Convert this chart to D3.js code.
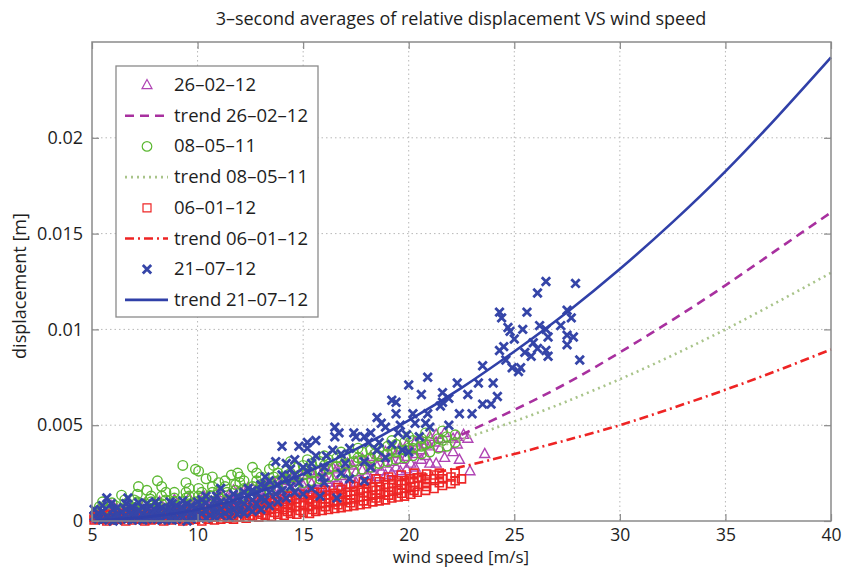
<!DOCTYPE html>
<html>
<head>
<meta charset="utf-8">
<script src="https://cdn.jsdelivr.net/npm/d3@7"></script>
<style>
  body { margin: 0; background: #fff; }
  text { font-family: "Open Sans", sans-serif; fill: #1e1e1e; }
</style>
</head>
<body>
<svg id="chart" width="842" height="569"></svg>
<script>
// ---- data (wind speed [m/s], displacement [mm]) ----
var xTicks = [5, 10, 15, 20, 25, 30, 35, 40];
var yTicks = [0, 0.005, 0.01, 0.015, 0.02];
var yTickLabels = ["0", "0.005", "0.01", "0.015", "0.02"];
var seriesNames = ["26–02–12", "08–05–11", "06–01–12", "21–07–12"];

var pts260212 = [
  [5.2,0.1],[5.2,0.4],[5.5,0.2],[5.5,0.6],[5.9,0.1],[5.9,0.5],[5.9,0.8],[6.2,0.3],[6.2,0.6],
  [6.6,0.15],[6.6,0.45],[6.6,0.7],[7.0,0.2],[7.0,0.55],[7.3,0.1],[7.3,0.4],[7.3,0.7],[7.7,0.3],[7.7,0.6],
  [8.0,0.2],[8.0,0.5],[8.0,0.8],[8.4,0.35],[8.4,0.65],[8.7,0.25],[8.7,0.55],[8.7,0.85],[9.1,0.4],[9.1,0.7],
  [9.4,0.3],[9.4,0.6],[9.4,0.95],[9.8,0.45],[9.8,0.8],[10.1,0.4],[10.1,0.7],[10.1,1.05],[10.5,0.5],[10.5,0.85],
  [10.5,1.15],[10.8,0.55],[10.8,0.9],[11.2,0.6],[11.2,0.95],[11.2,1.3],[11.5,0.65],[11.5,1.05],[11.5,1.4],
  [11.9,0.7],[11.9,1.1],[11.9,1.5],[12.2,0.8],[12.2,1.2],[12.2,1.6],[12.6,0.85],[12.6,1.3],[12.6,1.7],
  [12.9,0.9],[12.9,1.35],[12.9,1.8],[13.3,1.0],[13.3,1.45],[13.3,1.9],[13.6,1.05],[13.6,1.5],[13.6,2.0],
  [14.0,1.1],[14.0,1.6],[14.0,2.1],[14.3,1.2],[14.3,1.7],[14.3,2.2],[14.7,1.3],[14.7,1.8],[14.7,2.3],
  [15.0,1.35],[15.0,1.85],[15.0,2.4],[15.4,1.45],[15.4,1.95],[15.4,2.5],[15.7,1.5],[15.7,2.05],[15.7,2.6],
  [16.1,1.6],[16.1,2.15],[16.1,2.7],[16.4,1.7],[16.4,2.25],[16.4,2.8],[16.8,1.8],[16.8,2.35],[16.8,2.9],
  [17.1,1.9],[17.1,2.45],[17.1,3.0],[17.5,2.0],[17.5,2.55],[17.5,3.1],[17.8,2.1],[17.8,2.65],[17.8,3.25],
  [18.2,2.2],[18.2,2.75],[18.2,3.35],[18.5,2.3],[18.5,2.85],[18.5,3.45],[18.9,2.4],[18.9,3.0],[18.9,3.6],
  [19.2,2.5],[19.2,3.1],[19.2,3.7],[19.6,2.6],[19.6,3.2],[19.6,3.85],[19.9,2.7],[19.9,3.35],[19.9,3.95],
  [20.3,2.8],[20.3,3.5],[20.3,4.1],[20.6,3.2],[20.6,3.7],[20.6,4.2],[21.0,3.0],[21.0,3.9],[21.0,4.4],
  [21.3,3.0],[21.3,4.1],[21.3,4.5],[21.7,3.3],[21.7,4.6],[22.1,3.6],[22.1,4.3],[22.4,3.2],[22.6,4.5],
  [22.8,4.3],[22.9,2.6],[23.6,3.5],
  [5.35,0.3],[5.35,0.55],[6.05,0.25],[6.05,0.7],[6.75,0.35],[6.75,0.85],[7.5,0.45],[7.5,0.9],
  [8.2,0.6],[8.2,1.0],[8.9,0.65],[8.9,1.1],[9.6,0.7],[9.6,1.2],[10.3,0.8],[10.3,1.3],[11.0,0.9],[11.0,1.45],
  [11.7,1.0],[11.7,1.6],[12.4,1.1],[12.4,1.75],[13.1,1.2],[13.1,1.9],[13.8,1.35],[13.8,2.1],[14.5,1.5],
  [14.5,2.25],[15.2,1.65],[15.2,2.4],[15.9,1.8],[15.9,2.55],[16.6,2.0],[16.6,2.7],[17.3,2.2],[17.3,2.9],
  [18.0,2.4],[18.0,3.1],[18.7,2.6],[18.7,3.3],[19.4,2.8],[19.4,3.5],[20.1,3.0],[20.1,3.7],[20.8,3.4],
  [20.8,4.0],[21.5,3.8],[21.5,4.3],[22.3,4.0],[22.3,4.4]
];

var pts080511 = [
  [5.2,0.2],[5.2,0.5],[5.5,0.3],[5.5,1.0],[5.8,0.2],[5.8,0.6],[6.1,0.4],[6.1,0.8],[6.4,0.3],[6.4,1.35],
  [6.7,0.5],[6.7,0.9],[7.0,0.4],[7.0,0.7],[7.0,1.1],[7.2,1.8],[7.4,0.5],[7.4,0.9],[7.8,0.6],[7.8,1.0],
  [7.8,1.3],[8.1,2.1],[8.1,0.7],[8.5,0.6],[8.5,1.1],[8.5,1.5],[8.9,0.8],[8.9,1.2],[9.3,2.9],[9.3,0.7],
  [9.3,1.0],[9.6,0.9],[9.6,1.3],[9.6,1.7],[9.9,2.7],[9.9,1.0],[10.2,0.8],[10.2,1.2],[10.2,1.5],[10.6,1.0],
  [10.6,1.3],[11.0,0.9],[11.0,1.2],[11.0,1.6],[11.0,2.0],[11.4,1.1],[11.4,1.5],[11.8,1.2],[11.8,1.6],
  [11.8,1.9],[12.2,1.3],[12.2,1.7],[12.2,2.1],[12.6,1.4],[12.6,1.8],[12.6,2.8],[13.0,1.5],[13.0,1.9],
  [13.0,2.3],[13.4,1.6],[13.4,2.0],[13.4,2.7],[13.8,1.7],[13.8,2.1],[13.8,2.5],[14.2,1.8],[14.2,2.2],
  [14.2,2.6],[14.6,1.9],[14.6,2.3],[14.6,2.8],[15.0,2.0],[15.0,2.4],[15.0,2.9],[15.4,2.1],[15.4,2.5],
  [15.4,3.0],[15.8,2.2],[15.8,2.6],[15.8,3.1],[16.2,2.3],[16.2,2.7],[16.2,3.2],[16.6,2.4],[16.6,2.85],
  [16.6,3.3],[17.0,2.5],[17.0,3.0],[17.0,3.4],[17.4,2.6],[17.4,3.1],[17.4,3.5],[17.8,2.7],[17.8,3.2],
  [17.8,3.6],[18.2,2.8],[18.2,3.3],[18.2,3.7],[18.6,3.0],[18.6,3.4],[18.6,3.8],[19.0,3.1],[19.0,3.5],
  [19.0,3.9],[19.4,3.2],[19.4,3.6],[19.4,4.0],[19.8,3.3],[19.8,3.7],[19.8,4.1],[20.2,3.4],[20.2,3.8],
  [20.2,4.2],[20.6,3.5],[20.6,3.9],[20.6,4.3],[21.0,3.6],[21.0,4.1],[21.4,3.8],[21.4,4.3],[21.8,3.9],
  [21.8,4.4],[22.2,4.1],[22.2,4.5],
  [5.35,0.4],[5.35,0.75],[5.95,0.45],[5.95,0.95],[6.55,0.6],[6.55,1.1],[7.15,0.6],[7.15,1.0],[7.15,1.4],
  [7.6,1.6],[7.75,0.8],[7.75,1.15],[8.3,0.9],[8.3,1.3],[8.3,1.8],[8.9,1.0],[8.9,1.5],[9.45,1.2],[9.45,1.5],
  [9.45,2.0],[10.05,1.3],[10.05,1.7],[10.05,2.6],[10.4,2.2],[10.7,1.5],[10.7,1.8],[10.7,2.3],[11.3,1.8],
  [11.3,2.1],[11.6,2.4],[11.9,2.5],[12.0,2.0],[12.0,2.3],[12.8,2.1],[12.8,2.5],[13.6,2.3],[13.6,2.9],
  [14.4,2.5],[14.4,3.1],[15.2,2.6],[15.2,3.2],[16.0,2.9],[16.0,3.4],[16.8,3.1],[16.8,3.6],[17.6,3.3],
  [17.6,3.8],[18.4,3.5],[18.4,4.0],[19.2,3.7],[19.2,4.2],[20.0,3.8],[20.0,4.4],[20.8,4.0],[20.8,4.6],
  [21.6,4.2],[21.6,4.7]
];

var pts060112 = [
  [5.1,0.05],[5.1,0.2],[5.4,0.1],[5.4,0.25],[5.7,0.0],[5.7,0.15],[5.7,0.3],[6.0,0.05],[6.0,0.2],
  [6.3,0.1],[6.3,0.3],[6.6,0.0],[6.6,0.15],[6.9,0.05],[6.9,0.25],[7.2,0.1],[7.2,0.3],[7.5,0.0],[7.5,0.2],
  [7.8,0.05],[7.8,0.3],[8.1,0.1],[8.1,0.25],[8.4,0.0],[8.4,0.2],[8.4,0.35],[8.7,0.05],[8.7,0.3],
  [9.0,0.1],[9.0,0.25],[9.3,0.0],[9.3,0.2],[9.3,0.4],[9.6,0.05],[9.6,0.3],[9.9,0.1],[9.9,0.35],
  [10.2,0.0],[10.2,0.2],[10.2,0.45],[10.5,0.1],[10.5,0.3],[10.5,0.5],[10.8,0.05],[10.8,0.25],[10.8,0.5],
  [11.1,0.1],[11.1,0.35],[11.1,0.6],[11.4,0.15],[11.4,0.4],[11.4,0.65],[11.7,0.1],[11.7,0.3],[11.7,0.55],
  [12.0,0.2],[12.0,0.45],[12.0,0.75],[12.3,0.15],[12.3,0.4],[12.3,0.7],[12.6,0.25],[12.6,0.5],[12.6,0.85],
  [12.9,0.2],[12.9,0.45],[12.9,0.8],[12.9,1.1],[13.2,0.3],[13.2,0.55],[13.2,0.9],[13.5,0.25],[13.5,0.6],
  [13.5,0.95],[13.8,0.35],[13.8,0.65],[13.8,1.0],[14.1,0.3],[14.1,0.6],[14.1,0.9],[14.1,1.15],
  [14.4,0.4],[14.4,0.7],[14.4,1.05],[14.7,0.35],[14.7,0.75],[14.7,1.15],[15.0,0.45],[15.0,0.8],[15.0,1.25],
  [15.3,0.4],[15.3,0.75],[15.3,1.1],[15.3,1.35],[15.6,0.5],[15.6,0.85],[15.6,1.2],[15.9,0.55],[15.9,0.9],
  [15.9,1.3],[15.9,1.5],[16.2,0.6],[16.2,0.95],[16.2,1.35],[16.5,0.65],[16.5,1.0],[16.5,1.45],
  [16.8,0.7],[16.8,1.05],[16.8,1.4],[16.8,1.65],[17.1,0.75],[17.1,1.1],[17.1,1.5],[17.4,0.8],[17.4,1.15],
  [17.4,1.55],[17.4,1.8],[17.7,0.85],[17.7,1.25],[17.7,1.6],[18.0,0.9],[18.0,1.3],[18.0,1.7],[18.0,1.95],
  [18.3,1.0],[18.3,1.35],[18.3,1.75],[18.6,1.05],[18.6,1.4],[18.6,1.8],[18.6,2.05],[18.9,1.1],[18.9,1.5],
  [18.9,1.9],[19.2,1.2],[19.2,1.55],[19.2,1.95],[19.2,2.15],[19.5,1.25],[19.5,1.6],[19.5,2.1],
  [19.8,1.3],[19.8,1.7],[19.8,2.1],[20.1,1.4],[20.1,1.75],[20.1,2.2],[20.3,1.8],[20.4,1.5],[20.4,2.25],
  [20.6,2.3],[20.8,1.6],[20.8,1.95],[21.2,1.7],[21.2,2.2],[21.2,2.4],[21.6,1.85],[21.6,2.2],
  [22.0,1.95],[22.0,2.3],[22.5,2.2],
  [5.25,0.12],[5.25,0.3],[5.85,0.1],[5.85,0.35],[6.45,0.2],[6.45,0.4],[7.05,0.15],[7.05,0.4],[7.65,0.1],
  [7.65,0.35],[8.25,0.15],[8.25,0.4],[8.85,0.2],[8.85,0.45],[9.45,0.1],[9.45,0.3],[9.45,0.5],[10.05,0.3],
  [10.05,0.55],[10.65,0.2],[10.65,0.4],[10.65,0.65],[11.25,0.25],[11.25,0.5],[11.25,0.75],[11.85,0.2],
  [11.85,0.45],[11.85,0.8],[12.45,0.3],[12.45,0.6],[12.45,0.95],[13.05,0.35],[13.05,0.7],[13.05,1.05],
  [13.65,0.45],[13.65,0.8],[13.65,1.2],[14.25,0.5],[14.25,0.85],[14.25,1.3],[14.85,0.55],[14.85,0.95],
  [14.85,1.4],[15.45,0.6],[15.45,1.0],[15.45,1.5],[16.05,0.75],[16.05,1.15],[16.05,1.6],[16.65,0.85],
  [16.65,1.25],[16.65,1.75],[17.25,0.95],[17.25,1.35],[17.25,1.9],[17.85,1.05],[17.85,1.5],[17.85,2.05],
  [18.45,1.2],[18.45,1.6],[18.45,2.2],[19.05,1.35],[19.05,1.75],[19.05,2.3],[19.65,1.45],[19.65,1.9],
  [19.65,2.4],[20.25,1.6],[20.25,2.0],[20.25,2.5],[20.85,1.8],[20.85,2.15],[20.85,2.45],[21.45,2.0],
  [21.45,2.5],[22.2,2.1],[22.2,2.5]
];

var pts210712 = [
  [5.3,0.1],[5.3,0.4],[5.7,0.2],[5.7,1.2],[6.0,0.0],[6.0,0.3],[6.0,0.6],[6.4,0.15],[6.4,0.45],
  [6.7,0.1],[6.7,1.2],[7.0,0.25],[7.0,0.5],[7.4,0.05],[7.4,0.35],[7.4,0.7],[7.8,0.2],[7.8,0.5],
  [8.1,0.1],[8.1,0.4],[8.1,0.8],[8.5,0.25],[8.5,0.6],[8.8,0.05],[8.8,0.45],[8.8,0.9],[9.2,0.3],[9.2,0.7],
  [9.5,0.0],[9.5,0.5],[9.5,0.9],[9.9,0.2],[9.9,0.65],[10.2,0.4],[10.2,0.8],[10.2,1.1],[10.6,0.3],[10.6,0.7],
  [10.9,0.5],[10.9,0.9],[10.9,1.3],[11.1,1.7],[11.3,0.4],[11.3,0.8],[11.7,0.6],[11.7,1.0],[11.7,1.4],
  [12.0,0.5],[12.0,1.1],[12.4,0.7],[12.4,1.3],[12.4,1.7],[12.8,0.9],[12.8,1.5],[13.2,1.1],[13.2,1.8],
  [13.2,2.3],[13.7,3.1],[13.7,1.4],[14.0,3.9],[14.0,1.6],[14.0,2.4],[14.4,1.8],[14.4,2.7],[14.8,3.9],
  [14.8,2.0],[15.2,3.8],[15.2,4.1],[15.2,2.6],[15.6,4.2],[15.6,3.4],[15.8,1.3],[15.9,2.3],[16.1,3.4],
  [16.4,3.7],[16.5,4.9],[16.5,4.4],[16.6,1.2],[16.7,4.6],[17.0,3.0],[17.4,4.6],[17.5,4.4],[17.9,4.4],
  [17.9,3.1],[17.9,2.1],[18.1,4.1],[18.5,5.4],[18.5,3.7],[18.6,4.1],[18.7,5.1],[19.2,6.3],[19.4,6.2],
  [19.4,5.6],[19.5,4.6],[19.6,5.0],[19.7,3.7],[19.9,4.5],[20.0,7.1],[20.0,3.6],[20.2,5.6],[20.3,5.1],
  [20.6,6.6],[20.8,5.1],[20.9,7.5],[20.9,5.6],[21.5,6.0],[21.6,6.7],[21.6,6.2],[22.3,7.2],[22.4,5.6],
  [23.3,7.2],[23.5,8.1],[23.5,6.1],[23.9,6.1],[24.0,7.2],[24.2,6.5],[24.3,10.9],[24.3,8.9],[24.4,10.6],
  [24.5,9.1],[24.6,8.4],[24.7,10.1],[24.8,9.9],[24.9,8.0],[25.0,9.5],[25.2,7.8],[25.3,8.0],[25.4,10.0],
  [25.5,8.8],[25.6,10.9],[25.8,8.6],[25.9,9.3],[26.1,11.9],[26.1,9.0],[26.2,10.2],[26.5,12.5],[26.5,10.0],
  [26.5,8.9],[26.6,9.6],[26.6,8.6],[27.2,10.2],[27.5,11.0],[27.5,9.7],[27.5,9.2],[27.7,10.6],[27.8,9.6],
  [27.9,12.4],[28.1,8.4],
  [5.1,0.25],[5.1,0.6],[5.5,0.05],[5.5,0.5],[5.5,0.8],[5.9,0.15],[5.9,0.9],[6.2,0.05],[6.2,0.35],[6.2,0.7],
  [6.6,0.3],[6.6,0.6],[6.6,0.9],[6.9,0.05],[6.9,0.4],[6.9,0.75],[7.2,0.15],[7.2,0.55],[7.2,0.95],
  [7.6,0.1],[7.6,0.3],[7.6,0.65],[7.6,0.9],[8.0,0.2],[8.0,0.55],[8.0,1.0],[8.3,0.05],[8.3,0.35],[8.3,0.7],
  [8.7,0.15],[8.7,0.6],[8.7,1.0],[9.0,0.1],[9.0,0.45],[9.0,0.8],[9.3,0.2],[9.3,0.6],[9.3,1.05],
  [9.7,0.1],[9.7,0.35],[9.7,0.8],[10.0,0.25],[10.0,0.55],[10.0,1.0],[10.4,0.15],[10.4,0.5],[10.4,0.95],
  [10.4,1.3],[10.8,0.2],[10.8,0.7],[10.8,1.1],[11.1,0.3],[11.1,0.6],[11.1,1.0],[11.5,0.2],[11.5,0.55],
  [11.5,0.9],[11.5,1.2],[11.9,0.35],[11.9,0.8],[11.9,1.3],[12.2,0.4],[12.2,0.9],[12.2,1.5],[12.6,0.5],
  [12.6,1.1],[12.6,1.6],[13.0,0.6],[13.0,1.2],[13.0,1.9],[13.4,0.8],[13.4,1.5],[13.4,2.1],[13.8,1.0],
  [13.8,1.9],[14.2,1.2],[14.2,2.2],[14.2,3.0],[14.6,1.5],[14.6,2.4],[14.6,3.2],[15.0,1.4],[15.0,2.8],
  [15.4,1.7],[15.4,3.0],[16.0,2.0],[16.0,2.8],[16.8,2.5],[16.8,3.5],[17.2,2.2],[17.2,3.8],[18.2,2.8],
  [18.2,4.6],[18.9,3.3],[18.9,4.9],[19.2,4.0],[20.5,4.4],[21.0,4.9],[21.9,5.0],[21.9,6.4],[22.8,6.6],
  [23.0,5.6]
];

// trend curves
var trend260212 = [[22.5,4.5],[25,5.8],[27.5,7.2],[30,8.8],[32.5,10.5],[35,12.3],[37.5,14.2],[40,16.1]];
var trend080511 = [[21.5,3.9],[25,5.2],[27.5,6.25],[30,7.4],[32.5,8.65],[35,10.0],[37.5,11.45],[40,12.95]];
var trend060112 = [[19.6,2.14],[22,2.7],[25,3.5],[27.5,4.23],[30,5.0],[32.5,5.9],[35,6.85],[37.5,7.87],[40,8.95]];
var trend210712 = [[5,0.0],[7.5,0.2],[10,0.6],[12.5,1.35],[15,2.45],[17.5,3.75],[20,5.25],[22.5,6.95],
  [25,8.85],[27.5,10.9],[30,13.15],[32.5,15.6],[35,18.25],[37.5,21.15],[40,24.2]];

var colPurple = "#b044b4", colGreen = "#5cb832", colRed = "#ee2626", colBlue = "#3545a8";

var svg = d3.select("#chart");
var x = d3.scaleLinear().domain([5, 40]).range([92, 831]);
var y = d3.scaleLinear().domain([0, 0.025]).range([521, 42]);

// title
svg.append("text")
  .attr("x", 461).attr("y", 25)
  .attr("text-anchor", "middle")
  .style("font-size", "18px")
  .text("3–second averages of relative displacement VS wind speed");

// grid
var grid = svg.append("g");
grid.selectAll(".gx").data(xTicks.slice(1, -1)).enter().append("line")
  .attr("x1", d => x(d)).attr("x2", d => x(d))
  .attr("y1", 42).attr("y2", 521)
  .style("stroke", "#b8b8b8").style("stroke-dasharray", "1.5,3");
grid.selectAll(".gy").data(yTicks.slice(1)).enter().append("line")
  .attr("x1", 92).attr("x2", 831)
  .attr("y1", d => y(d)).attr("y2", d => y(d))
  .style("stroke", "#b8b8b8").style("stroke-dasharray", "1.5,3");

var plot = svg.append("g");

function yv(d) { return y(d[1] / 1000); }

var line = d3.line().x(d => x(d[0])).y(yv).curve(d3.curveNatural);

function markerPath(kind) {
  if (kind == "tri") return "M0,-5.5L5,3.6L-5,3.6Z";
  if (kind == "sq") return "M-4,-4H4V4H-4Z";
  if (kind == "x") return "M-4.2,-4.2L4.2,4.2M-4.2,4.2L4.2,-4.2";
  return d3.symbol().type(d3.symbolCircle).size(72)();
}

function drawPoints(data, kind, col) {
  plot.append("g").selectAll("path").data(data).enter().append("path")
    .attr("transform", d => "translate(" + x(d[0]) + "," + yv(d) + ")")
    .attr("d", markerPath(kind))
    .style("fill", "none")
    .style("stroke", col)
    .style("stroke-width", kind == "x" ? 2.8 : (kind == "sq" ? 1.6 : 1.4));
}

function drawTrend(data, col, dash, w) {
  plot.append("path").datum(data)
    .attr("d", line)
    .style("fill", "none")
    .style("stroke", col)
    .style("stroke-width", w)
    .style("stroke-dasharray", dash);
}

drawPoints(pts260212, "tri", colPurple);
drawTrend(trend260212, "#a8309f", "9,6", 2.6);
drawPoints(pts080511, "circ", colGreen);
drawTrend(trend080511, "#a9c48a", "2,4", 2.6);
drawPoints(pts060112, "sq", colRed);
drawTrend(trend060112, "#ee2424", "9,4,2,4", 2.6);
drawPoints(pts210712, "x", colBlue);
drawTrend(trend210712, "#3040a8", null, 2.6);

// axes box and ticks
svg.append("rect")
  .attr("x", 92).attr("y", 42).attr("width", 739).attr("height", 479)
  .style("fill", "none").style("stroke", "#8a8a8a").style("stroke-width", 1.5);

var xAxis = d3.axisBottom(x).tickValues(xTicks).tickSize(-7).tickPadding(8).tickFormat(d3.format("d"));
var xg = svg.append("g").attr("transform", "translate(0,521)").call(xAxis);
var xTop = svg.append("g").attr("transform", "translate(0,42)")
  .call(d3.axisTop(x).tickValues(xTicks).tickSize(-7).tickFormat(""));
var yAxis = d3.axisLeft(y).tickValues(yTicks).tickSize(-7).tickPadding(9)
  .tickFormat((d, i) => yTickLabels[i]);
var yg = svg.append("g").attr("transform", "translate(92,0)").call(yAxis);
var yRight = svg.append("g").attr("transform", "translate(831,0)")
  .call(d3.axisRight(y).tickValues(yTicks).tickSize(-7).tickFormat(""));

[xg, xTop, yg, yRight].forEach(function(g) {
  g.select(".domain").remove();
  g.selectAll("line").style("stroke", "#8a8a8a").style("stroke-width", 1.2);
  g.selectAll("text").style("font-size", "18px").style("font-family", "Open Sans, sans-serif").style("fill", "#1e1e1e");
});
xg.selectAll("text").style("font-size", "17.5px");

// axis labels
svg.append("text")
  .attr("x", 461).attr("y", 563)
  .attr("text-anchor", "middle")
  .style("font-size", "17px")
  .text("wind speed [m/s]");
svg.append("text")
  .attr("transform", "translate(26,286) rotate(-90)")
  .attr("text-anchor", "middle")
  .style("font-size", "18px")
  .text("displacement [m]");

// legend
var legend = svg.append("g");
legend.append("rect")
  .attr("x", 116).attr("y", 66).attr("width", 202).attr("height", 251)
  .style("fill", "#fff").style("stroke", "#8a8a8a").style("stroke-width", 1.3);

var legItems = [
  { label: seriesNames[0], kind: "tri", col: colPurple },
  { label: "trend " + seriesNames[0], line: "#a8309f", dash: "9,6" },
  { label: seriesNames[1], kind: "circ", col: colGreen },
  { label: "trend " + seriesNames[1], line: "#a9c48a", dash: "2,4" },
  { label: seriesNames[2], kind: "sq", col: colRed },
  { label: "trend " + seriesNames[2], line: "#ee2424", dash: "9,4,2,4" },
  { label: seriesNames[3], kind: "x", col: colBlue },
  { label: "trend " + seriesNames[3], line: "#3040a8", dash: null }
];

legItems.forEach(function(it, i) {
  var cy = 85 + i * 30.7;
  if (it.kind) {
    legend.append("path")
      .attr("transform", "translate(147," + cy + ")")
      .attr("d", markerPath(it.kind))
      .style("fill", "none").style("stroke", it.col)
      .style("stroke-width", it.kind == "x" ? 2.8 : 1.2);
  } else {
    legend.append("line")
      .attr("x1", 125).attr("x2", 168).attr("y1", cy).attr("y2", cy)
      .style("stroke", it.line).style("stroke-width", 2.6)
      .style("stroke-dasharray", it.dash);
  }
  legend.append("text")
    .attr("x", 174).attr("y", cy + 6)
    .style("font-size", "18.5px")
    .text(it.label);
});
</script>
</body>
</html>
